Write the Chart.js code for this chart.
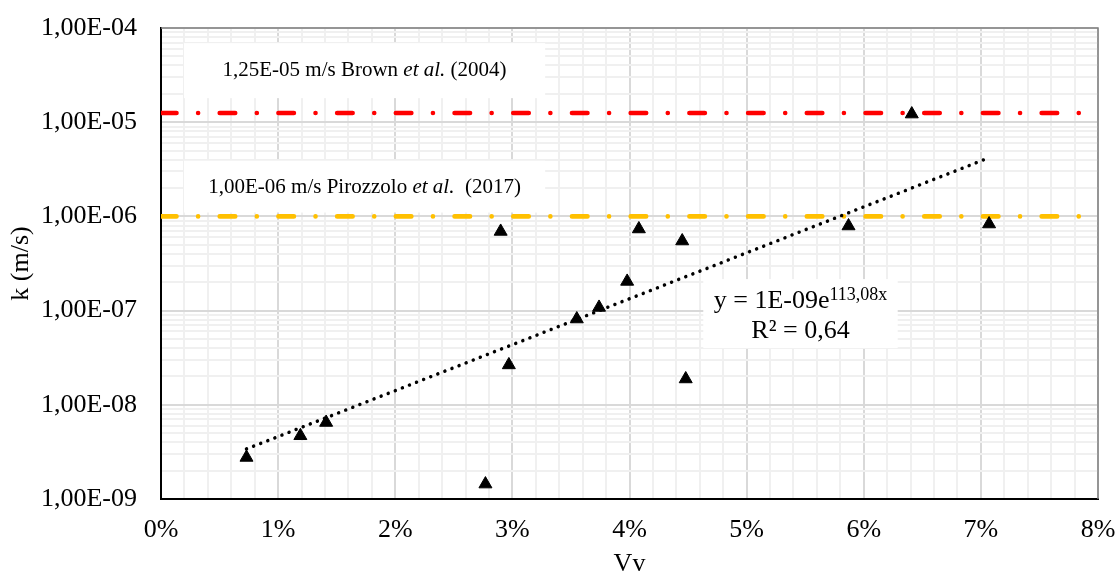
<!DOCTYPE html>
<html lang="en">
<head>
    <meta charset="UTF-8">
    <title>k vs Vv</title>
    <script src="https://cdn.jsdelivr.net/npm/chart.js"></script>
    <style>
        body { margin: 0; background: #fff; }
        canvas { display: block; }
    </style>
</head>
<body>
    <canvas id="chart" width="1116" height="575"></canvas>

    <script>
        // measured samples (Vv as fraction, k in m/s)
        const vv = [0.0073, 0.0119, 0.0141, 0.0277, 0.0290, 0.0297, 0.0355, 0.0374, 0.0398, 0.0408, 0.0445, 0.0448, 0.0587, 0.0641, 0.0707];
        const k  = [2.76e-9, 4.69e-9, 6.49e-9, 1.44e-9, 6.92e-7, 2.65e-8, 8.14e-8, 1.08e-7, 2.04e-7, 7.35e-7, 5.48e-7, 1.88e-8, 7.91e-7, 1.22e-5, 8.30e-7];

        // exponential trendline, ends
        const trendX = [0.0073, 0.0707];
        const trendK = [3.4e-9, 4.2e-6];

        // reference permeabilities
        const refX = [0, 0.08];
        const brownK = 1.25e-5;
        const pirozzoloK = 1.0e-6;

        // axes
        const xTickValues = [0, 0.01, 0.02, 0.03, 0.04, 0.05, 0.06, 0.07, 0.08];
        const xTickLabels = ['0%', '1%', '2%', '3%', '4%', '5%', '6%', '7%', '8%'];
        const yTickValues = [1e-9, 1e-8, 1e-7, 1e-6, 1e-5, 1e-4];
        const yTickLabels = ['1,00E-09', '1,00E-08', '1,00E-07', '1,00E-06', '1,00E-05', '1,00E-04'];

        const SERIF = '"Liberation Serif", "Times New Roman", serif';
        const R = s => s + 'px ' + SERIF;
        const I = s => 'italic ' + s + 'px ' + SERIF;

        // text boxes (extent in data units, baselines in px from box top)
        const notes = [
            { x0: 0.00196, x1: 0.0328, kTop: 6.9e-5, kBottom: 1.8e-5, baselines: [33],
              lines: [[{ t: '1,25E-05 m/s Brown ', f: R(21) }, { t: 'et al.', f: I(21) }, { t: ' (2004)', f: R(21) }]] },
            { x0: 0.00196, x1: 0.0328, kTop: 3.9e-6, kBottom: 1.1e-6, baselines: [32],
              lines: [[{ t: '1,00E-06 m/s Pirozzolo ', f: R(21) }, { t: 'et al.', f: I(21) }, { t: '  (2017)', f: R(21) }]] },
            { x0: 0.0463, x1: 0.0629, kTop: 2.16e-7, kBottom: 4.0e-8, baselines: [29, 59],
              lines: [[{ t: 'y = 1E-09e', f: R(26) }, { t: '113,08x', f: R(18), dy: -8 }],
                      [{ t: 'R² = 0,64', f: R(26) }]] }
        ];

        function drawRuns(ctx, runs, cx, baseY) {
            let w = 0;
            runs.forEach(r => { ctx.font = r.f; w += ctx.measureText(r.t).width; });
            let x = cx - w / 2;
            ctx.textAlign = 'left';
            ctx.textBaseline = 'alphabetic';
            ctx.fillStyle = '#000';
            runs.forEach(r => {
                ctx.font = r.f;
                ctx.fillText(r.t, x, baseY + (r.dy || 0));
                x += ctx.measureText(r.t).width;
            });
        }

        const overlay = {
            id: 'overlay',
            beforeDatasetsDraw(chart) {
                const { ctx, chartArea: a, scales: { x, y } } = chart;
                ctx.save();
                ctx.strokeStyle = '#7f7f7f';
                ctx.lineWidth = 1.5;
                ctx.beginPath();
                ctx.moveTo(a.left, a.top);
                ctx.lineTo(a.right, a.top);
                ctx.lineTo(a.right, a.bottom);
                ctx.stroke();
                notes.forEach(n => {
                    const x0 = x.getPixelForValue(n.x0), x1 = x.getPixelForValue(n.x1);
                    const y0 = y.getPixelForValue(n.kTop), y1 = y.getPixelForValue(n.kBottom);
                    ctx.fillStyle = '#fff';
                    ctx.fillRect(x0, y0, x1 - x0, y1 - y0);
                    n.lines.forEach((runs, i) => drawRuns(ctx, runs, (x0 + x1) / 2, y0 + n.baselines[i]));
                });
                ctx.restore();
            }
        };

        const majorColor = '#d9d9d9';
        const minorColor = '#f0f0f0';

        const refLine = (val, color) => ({
            data: refX.map(v => ({ x: v, y: val })),
            showLine: true,
            borderColor: color,
            borderWidth: 4.6,
            borderDash: [15.5, 21.6, 0.01, 21.6],
            borderCapStyle: 'round',
            pointRadius: 0,
            clip: 0,
            order: 3
        });

        new Chart(document.getElementById('chart'), {
            type: 'scatter',
            data: {
                datasets: [
                    {
                        data: vv.map((v, i) => ({ x: v, y: k[i] })),
                        pointStyle: 'triangle',
                        pointRadius: 7.5,
                        backgroundColor: '#000',
                        borderColor: '#000',
                        borderWidth: 1,
                        order: 0
                    },
                    {
                        data: trendX.map((v, i) => ({ x: v, y: trendK[i] })),
                        showLine: true,
                        borderColor: '#000',
                        borderWidth: 3.5,
                        borderDash: [0.01, 7.6],
                        borderCapStyle: 'round',
                        pointRadius: 0,
                        order: 1
                    },
                    refLine(brownK, '#ff0000'),
                    refLine(pirozzoloK, '#ffc000')
                ]
            },
            options: {
                responsive: false,
                animation: false,
                layout: { padding: { top: 28, right: 18, left: 0, bottom: 0 } },
                plugins: { legend: { display: false }, tooltip: { enabled: false } },
                scales: {
                    x: {
                        type: 'linear',
                        min: 0,
                        max: 0.08,
                        afterBuildTicks: scale => {
                            const ticks = [];
                            xTickValues.forEach((v, i) => {
                                ticks.push({ value: v, major: true, label: xTickLabels[i] });
                                if (i < xTickValues.length - 1) {
                                    for (let j = 1; j < 5; j++) ticks.push({ value: v + j * 0.002, major: false });
                                }
                            });
                            scale.ticks = ticks;
                        },
                        afterFit: scale => { scale.height = 76; },
                        grid: {
                            color: c => (c.tick && c.tick.major) ? majorColor : minorColor,
                            lineWidth: 2,
                            drawTicks: true,
                            tickLength: 16,
                            tickColor: 'rgba(0,0,0,0)'
                        },
                        border: { color: '#000', width: 2 },
                        ticks: {
                            autoSkip: false,
                            maxRotation: 0,
                            padding: 0,
                            color: '#000',
                            font: { family: SERIF, size: 26 },
                            callback: function (v, i, ticks) { return ticks[i].major ? ticks[i].label : ''; }
                        },
                        title: {
                            display: true,
                            text: 'Vv',
                            color: '#000',
                            font: { family: SERIF, size: 26 },
                            padding: { top: 0, bottom: -5 }
                        }
                    },
                    y: {
                        type: 'logarithmic',
                        min: 1e-9,
                        max: 1e-4,
                        afterBuildTicks: scale => {
                            const ticks = [];
                            yTickValues.forEach((v, i) => {
                                ticks.push({ value: v, major: true, label: yTickLabels[i] });
                                if (i < yTickValues.length - 1) {
                                    for (let m = 2; m < 10; m++) ticks.push({ value: v * m, major: false });
                                }
                            });
                            scale.ticks = ticks;
                        },
                        afterFit: scale => { scale.width = 161; },
                        grid: {
                            color: c => (c.tick && c.tick.major) ? majorColor : minorColor,
                            lineWidth: 2,
                            drawTicks: true,
                            tickLength: 24,
                            tickColor: 'rgba(0,0,0,0)'
                        },
                        border: { color: '#000', width: 2 },
                        ticks: {
                            autoSkip: false,
                            padding: 0,
                            color: '#000',
                            font: { family: SERIF, size: 26 },
                            callback: function (v, i, ticks) { return ticks[i].major ? ticks[i].label : ''; }
                        },
                        title: {
                            display: true,
                            text: 'k (m/s)',
                            color: '#000',
                            font: { family: SERIF, size: 26 },
                            padding: { top: 6, bottom: 0 }
                        }
                    }
                }
            },
            plugins: [overlay]
        });
    </script>
</body>
</html>
